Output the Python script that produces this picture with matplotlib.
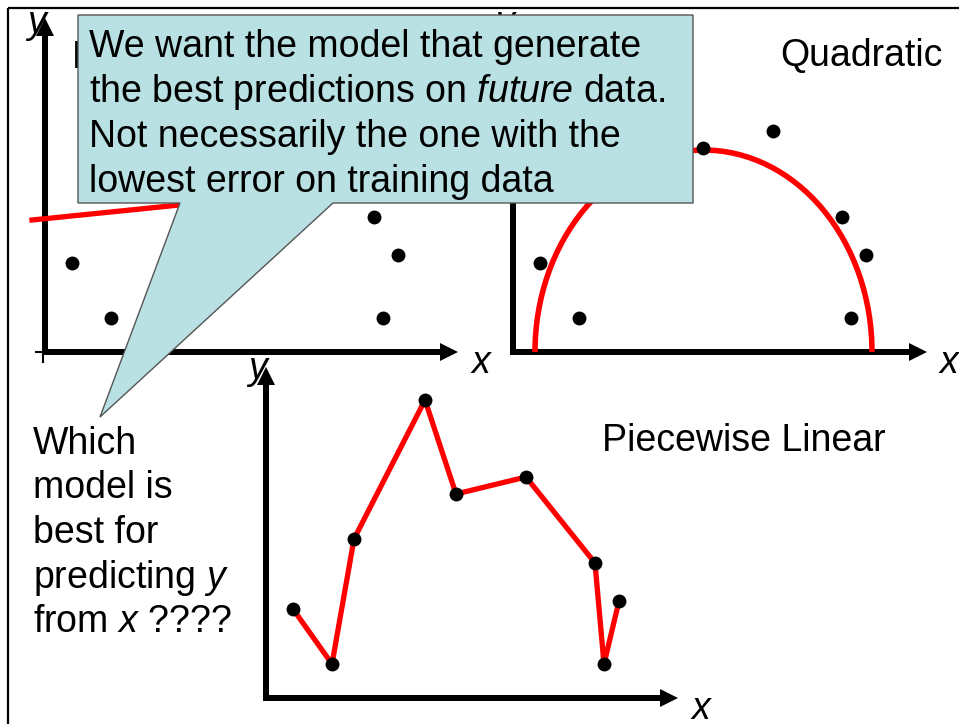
import matplotlib
matplotlib.use('Agg')
import matplotlib.pyplot as plt
from matplotlib.patches import Polygon, Rectangle, Arc, FancyArrow

plt.rcParams['font.family'] = 'Liberation Sans'
plt.rcParams['mathtext.fontset'] = 'custom'
plt.rcParams['mathtext.rm'] = 'Liberation Sans'
plt.rcParams['mathtext.it'] = 'Liberation Sans:italic'

W, H = 959, 724

# training points, shared by all three panels (panel units)
pts_x = [27, 66, 88, 159, 190, 260, 329, 338, 353]
pts_y = [89, 34, 159, 298, 204, 221, 135, 34, 97]

# linear fit end points
lin_x = [-13, 400]
lin_y = [132, 174]

# quadratic fit (drawn as a half ellipse): centre x, width, height
quad_cx, quad_w, quad_h = 190.5, 337, 404

titles = ["Linear", "Quadratic", "Piecewise Linear"]
callout_lines = ["We want the model that generate",
                 r"the best predictions on $\mathit{future}$ data.",
                 "Not necessarily the one with the",
                 "lowest error on training data"]
question_lines = ["Which", "model is", "best for",
                  r"predicting $\mathit{y}$", r"from $\mathit{x}$ ????"]

RED = '#FF0000'
FS = 27

fig = plt.figure(figsize=(W / 100, H / 100), dpi=100)

# background layer (pixel coords)
bg = fig.add_axes([0, 0, 1, 1], zorder=0)
bg.set_xlim(0, W)
bg.set_ylim(H, 0)
bg.axis('off')
bg.add_patch(Rectangle((8, 8), 1200, 1200, fill=False, ec='black', lw=1.6))


def panel(x0, y0, x_lo=-40, x_hi=450, y_lo=-40, y_hi=345):
    # one data unit == one pixel, origin at (x0, y0) in image pixels
    ax = fig.add_axes([(x0 + x_lo) / W, (H - y0 + y_lo) / H,
                       (x_hi - x_lo) / W, (y_hi - y_lo) / H], zorder=1)
    ax.set_xlim(x_lo, x_hi)
    ax.set_ylim(y_lo, y_hi)
    ax.axis('off')
    return ax


def axes_arrows(ax, x_tip, y_tip):
    ax.add_patch(FancyArrow(-3, 0, x_tip + 3, 0, width=6, head_width=18, head_length=18,
                            length_includes_head=True, color='black', lw=0, clip_on=False))
    ax.add_patch(FancyArrow(0, -3, 0, y_tip + 3, width=6, head_width=18, head_length=18,
                            length_includes_head=True, color='black', lw=0, clip_on=False))
    ax.text(-18, 319, 'y', fontsize=FS, style='italic', va='baseline', ha='left')
    ax.text(426, -21, 'x', fontsize=FS, style='italic', va='baseline', ha='left')


def dots(ax):
    ax.scatter(pts_x, pts_y, s=100, color='black', zorder=5, clip_on=False, lw=0)


# panel 1: linear
ax1 = panel(45, 352)
axes_arrows(ax1, 413, 334)
ax1.plot([-9, 0], [0, 0], color='black', lw=1.5)
ax1.plot([-2, -2], [0, -10], color='black', lw=1.5)
ax1.plot(lin_x, lin_y, color=RED, lw=3.8, clip_on=False, zorder=3)
dots(ax1)
ax1.text(27, 284, titles[0], fontsize=FS, va='baseline')

# panel 2: quadratic
ax2 = panel(513, 352)
axes_arrows(ax2, 414, 334)
ax2.add_patch(Arc((quad_cx, 0), quad_w, quad_h, theta1=0, theta2=180,
                  color=RED, lw=4, clip_on=False, zorder=3))
dots(ax2)
ax2.text(267, 286, titles[1], fontsize=FS, va='baseline')

# panel 3: piecewise linear
ax3 = panel(266, 698)
axes_arrows(ax3, 412, 331)
ax3.plot(pts_x, pts_y, color=RED, lw=3.8, clip_on=False, zorder=3)
dots(ax3)
ax3.text(336, 247, titles[2], fontsize=FS, va='baseline')

# callout layer (pixel coords)
top = fig.add_axes([0, 0, 1, 1], zorder=3)
top.set_xlim(0, W)
top.set_ylim(H, 0)
top.axis('off')
callout = [(78, 15), (693, 15), (693, 203), (333, 203), (100, 417), (180, 203), (78, 203)]
top.add_patch(Polygon(callout, closed=True, fc='#B9E0E3', ec='#555555', lw=1))
for i, line in enumerate(callout_lines):
    top.text(89, 57 + 45 * i, line, fontsize=FS, va='baseline', ha='left')
for i, line in enumerate(question_lines):
    top.text(33, 454 + 44.5 * i, line, fontsize=FS, va='baseline', ha='left')

fig.savefig('out.png', dpi=100)
